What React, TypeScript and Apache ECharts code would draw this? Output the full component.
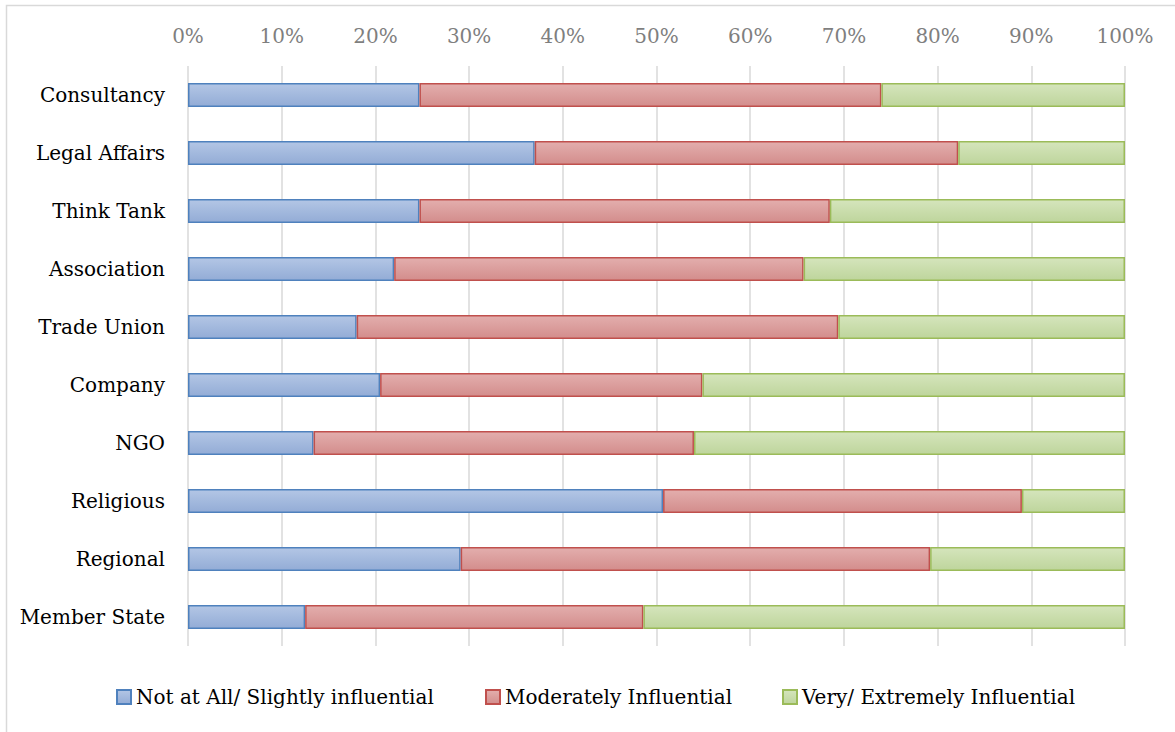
import React, { useEffect, useRef } from "react";
import * as echarts from "echarts";

const categories = [
  "Consultancy",
  "Legal Affairs",
  "Think Tank",
  "Association",
  "Trade Union",
  "Company",
  "NGO",
  "Religious",
  "Regional",
  "Member State",
];

const notAtAll = [24.7, 37.0, 24.7, 22.0, 18.0, 20.5, 13.4, 50.7, 29.1, 12.5];
const moderately = [49.3, 45.2, 43.8, 43.7, 51.4, 34.4, 40.6, 38.3, 50.1, 36.1];
const very = [26.0, 17.8, 31.5, 34.3, 30.6, 45.1, 46.0, 11.0, 20.8, 51.4];

const seriesNames = [
  "Not at All/ Slightly influential",
  "Moderately Influential",
  "Very/ Extremely Influential",
];

const FONT = "DejaVu Serif";

function grad(top: string, bottom: string) {
  return new echarts.graphic.LinearGradient(0, 0, 0, 1, [
    { offset: 0, color: top },
    { offset: 1, color: bottom },
  ]);
}

export default function App() {
  const ref = useRef<HTMLDivElement>(null);
  useEffect(() => {
    document.body.style.margin = "0";
    if (!ref.current) return;
    const chart = echarts.init(ref.current, null, { renderer: "svg" });
    const styles = [
      { color: grad("#B3C6E5", "#93ACD6"), borderColor: "#4F81BD" },
      { color: grad("#E3AEAD", "#D38D8C"), borderColor: "#C0504D" },
      { color: grad("#D5E5BC", "#BED59C"), borderColor: "#9BBB59" },
    ];
    const datas = [notAtAll, moderately, very];
    const legendLefts = [116, 485, 782];
    chart.setOption({
      animation: false,
      backgroundColor: "#fff",
      graphic: [
        {
          type: "rect",
          shape: { x: 6.5, y: 5.5, width: 1200, height: 800 },
          style: { fill: "none", stroke: "#D9D9D9", lineWidth: 1.5 },
          silent: true,
          z: -10,
        },
      ],
      grid: { left: 188, right: 50, top: 66, bottom: 86, containLabel: false },
      legend: seriesNames.map((n, i) => ({
        top: 687,
        left: legendLefts[i],
        padding: 0,
        itemWidth: 14,
        itemHeight: 14,
        icon: "rect",
        textStyle: { fontFamily: FONT, fontSize: 20, color: "#000" },
        data: [n],
      })),
      xAxis: {
        type: "value",
        position: "top",
        min: 0,
        max: 100,
        interval: 10,
        axisLine: { show: false },
        axisTick: { show: false },
        axisLabel: {
          formatter: "{value}%",
          fontFamily: FONT,
          fontSize: 20,
          color: "#7F7F7F",
          margin: 20,
        },
        splitLine: { show: true, lineStyle: { color: "#D9D9D9", width: 1.5 } },
      },
      yAxis: {
        type: "category",
        inverse: true,
        data: categories,
        axisLine: { show: false },
        axisTick: { show: false },
        axisLabel: {
          fontFamily: FONT,
          fontSize: 20,
          color: "#000",
          margin: 23,
        },
      },
      series: datas.map((d, i) => ({
        name: seriesNames[i],
        type: "bar",
        stack: "total",
        barWidth: 24,
        data: d,
        itemStyle: { ...styles[i], borderWidth: 1.5 },
      })),
    });
    return () => chart.dispose();
  }, []);
  return <div ref={ref} style={{ width: 1175, height: 732 }} />;
}
